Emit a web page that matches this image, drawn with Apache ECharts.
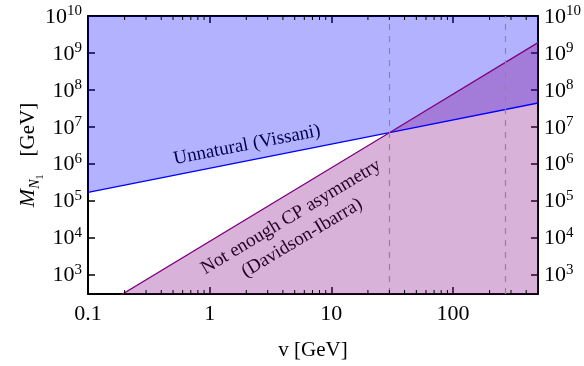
<!DOCTYPE html>
<html><head><meta charset="utf-8">
<script src="https://cdn.jsdelivr.net/npm/echarts@6/dist/echarts.min.js"></script>
<style>html,body{margin:0;padding:0;background:#fff}#c{width:584px;height:366px}</style>
</head><body><div id="c"></div>
<script>
// ---- data ----
const xRange = [0.1, 500];          // v [GeV]
const yRange = [295, 1e10];         // M_N1 [GeV]
const vissaniX = [0.1, 30, 500];
const vissaniY = [1.66e5, 6.9e6, 4.4e7];
const davidsonX = [0.1, 30, 500];
const davidsonY = [80, 6.9e6, 1.9e9];
const dashedX = [30, 270];
const xTickLabels = ['0.1', '1', '10', '100'];
const yTickExponents = [3, 4, 5, 6, 7, 8, 9, 10];
const minorTicksX = [0.2,0.3,0.4,0.5,0.6,0.7,0.8,0.9, 2,3,4,5,6,7,8,9, 20,30,40,50,60,70,80,90, 200,300,400];
const labelVissani = 'Unnatural (Vissani)';
const labelDavidson1 = 'Not enough CP asymmetry';
const labelDavidson2 = '(Davidson-Ibarra)';

const FONT = '"Liberation Serif", "DejaVu Serif", serif';
const vissaniPts = vissaniX.map((x, i) => [x, vissaniY[i]]);
const davidsonPts = davidsonX.map((x, i) => [x, davidsonY[i]]);

function isDecade(v) {
  const e = Math.log10(v);
  return Math.abs(e - Math.round(e)) < 1e-6;
}
function xFmt(v) {
  if (!isDecade(v)) return '';
  const e = Math.round(Math.log10(v));
  return xTickLabels[e + 1] || '';
}
function yFmt(v) {
  if (!isDecade(v)) return '';
  const e = Math.round(Math.log10(v));
  if (yTickExponents.indexOf(e) < 0) return '';
  return '{b|10}{s|' + e + '}';
}
const yRich = {
  b: { fontFamily: FONT, fontSize: 22, color: '#000', lineHeight: 24, verticalAlign: 'bottom' },
  s: { fontFamily: FONT, fontSize: 15, color: '#000', lineHeight: 24, verticalAlign: 'top', padding: [0, 0, 7, 0] }
};

function fillSeries(points, color) {
  return {
    type: 'custom', coordinateSystem: 'cartesian2d', clip: true, silent: true, z: 1,
    data: [points[0]],
    renderItem: function (params, api) {
      return { type: 'polygon', shape: { points: points.map(p => api.coord(p)) }, style: { fill: color } };
    }
  };
}

const blueRegion = vissaniPts.concat([[xRange[1], yRange[1]], [xRange[0], yRange[1]]]);
const purpleRegion = davidsonPts.concat([[xRange[1], yRange[0]], [xRange[0], yRange[0]]]);

const axisLine = { show: true, lineStyle: { color: '#000', width: 2 } };
const axisTick = { show: true, inside: true, length: 7, lineStyle: { color: '#000', width: 1.5 } };

const chart = echarts.init(document.getElementById('c'), null, { renderer: 'canvas' });
chart.setOption({
  animation: false,
  backgroundColor: '#fff',
  grid: { left: 88, right: 44, top: 16, bottom: 70, containLabel: false },
  xAxis: [{
    type: 'log', logBase: 10, min: xRange[0], max: xRange[1], position: 'bottom',
    axisLine, axisTick, splitLine: { show: false }, minorTick: { show: false },
    axisLabel: { formatter: xFmt, fontFamily: FONT, fontSize: 22, color: '#000', margin: 9 },
    name: 'v [GeV]', nameLocation: 'middle', nameGap: 46, nameMoveOverlap: false,
    nameTextStyle: { fontFamily: FONT, fontSize: 21, color: '#000' }
  }, {
    type: 'log', logBase: 10, min: xRange[0], max: xRange[1], position: 'top',
    axisLine, axisTick, splitLine: { show: false }, axisLabel: { show: false }
  }],
  yAxis: [{
    type: 'log', logBase: 10, min: yRange[0], max: yRange[1], position: 'left',
    axisLine, axisTick, splitLine: { show: false }, minorTick: { show: false },
    axisLabel: { formatter: yFmt, rich: yRich, margin: 6 },
    name: '{m|M}{n|N}{o|1}{g|[GeV]}', nameLocation: 'middle', nameGap: 49, nameRotate: 90,
    nameMoveOverlap: false,
    nameTextStyle: {
      fontFamily: FONT, fontSize: 21, color: '#000',
      rich: {
        m: { fontFamily: FONT, fontSize: 22, fontStyle: 'italic', color: '#000', lineHeight: 26, verticalAlign: 'bottom' },
        n: { fontFamily: FONT, fontSize: 14, fontStyle: 'italic', color: '#000', lineHeight: 26, verticalAlign: 'bottom', padding: [0, 0, -3, 0] },
        o: { fontFamily: FONT, fontSize: 10, color: '#000', lineHeight: 26, verticalAlign: 'bottom', padding: [0, 0, -6, 0] },
        g: { fontFamily: FONT, fontSize: 21, color: '#000', lineHeight: 26, verticalAlign: 'bottom', padding: [0, 0, 0, 18] }
      }
    }
  }, {
    type: 'log', logBase: 10, min: yRange[0], max: yRange[1], position: 'right',
    axisLine, axisTick, splitLine: { show: false },
    axisLabel: { formatter: yFmt, rich: yRich, margin: 6 }
  }],
  series: [
    fillSeries(blueRegion, 'rgba(0,0,255,0.3)'),
    fillSeries(purpleRegion, 'rgba(128,0,128,0.3)'),
    {
      type: 'line', data: vissaniPts, showSymbol: false, symbol: 'none', z: 3,
      lineStyle: { color: '#0000ff', width: 1.3 }, silent: true,
      markLine: {
        silent: true, symbol: 'none', label: { show: false },
        lineStyle: { type: [6, 6], color: '#8a8a8a', width: 1.2 },
        data: dashedX.map(v => ({ xAxis: v }))
      }
    },
    {
      type: 'line', data: davidsonPts, showSymbol: false, symbol: 'none', z: 3,
      lineStyle: { color: '#800080', width: 1.3 }, silent: true
    },
    {
      type: 'custom', coordinateSystem: 'cartesian2d', silent: true, z: 5,
      data: minorTicksX.map(v => [v, yRange[0]]),
      renderItem: function (params, api) {
        const cs = params.coordSys;
        const x = api.coord([api.value(0), yRange[0]])[0];
        return {
          type: 'group', children: [
            { type: 'line', shape: { x1: x, y1: cs.y + cs.height, x2: x, y2: cs.y + cs.height - 4 }, style: { stroke: '#000', lineWidth: 1 } },
            { type: 'line', shape: { x1: x, y1: cs.y, x2: x, y2: cs.y + 4 }, style: { stroke: '#000', lineWidth: 1 } }
          ]
        };
      }
    }
  ],
  graphic: [
    { type: 'text', x: 247, y: 145, rotation: 11 * Math.PI / 180, silent: true,
      style: { text: labelVissani, font: '19px ' + FONT, fill: '#000', align: 'center', verticalAlign: 'middle' } },
    { type: 'text', x: 291, y: 217, rotation: 31 * Math.PI / 180, silent: true,
      style: { text: labelDavidson1, font: '19px ' + FONT, fill: '#000', align: 'center', verticalAlign: 'middle' } },
    { type: 'text', x: 302, y: 238, rotation: 31 * Math.PI / 180, silent: true,
      style: { text: labelDavidson2, font: '19px ' + FONT, fill: '#000', align: 'center', verticalAlign: 'middle' } }
  ]
});
</script></body></html>
